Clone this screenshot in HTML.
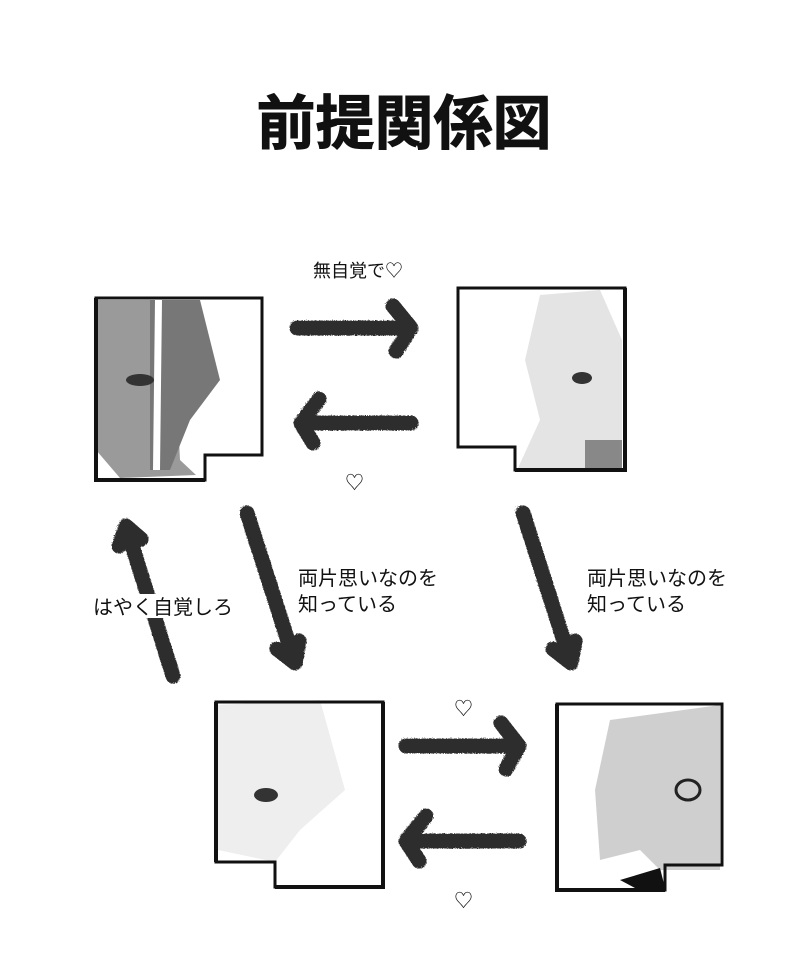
<!DOCTYPE html>
<html><head><meta charset="utf-8"><style>
html,body{margin:0;padding:0;background:#fff;}
svg{display:block;}
text{font-family:"Liberation Sans","Noto Sans CJK JP",sans-serif;fill:#111;}
</style></head><body>
<svg width="800" height="980" viewBox="0 0 800 980" xmlns="http://www.w3.org/2000/svg">
<defs>
<filter id="r"><feTurbulence baseFrequency="0.9" numOctaves="1" result="n"/><feDisplacementMap in="SourceGraphic" in2="n" scale="3"/></filter>
</defs>
<text x="404" y="144" font-size="59" font-weight="bold" text-anchor="middle" stroke="#111" stroke-width="1">前提関係図</text>

<!-- top-left box -->
<path d="M96,300 L172,300 L180,460 L196,475 L120,478 L96,450Z" fill="#9a9a9a"/>
<path d="M150,300 L200,300 L220,380 L190,420 L170,470 L150,470Z" fill="#777"/>
<path d="M155,300 L162,300 L160,470 L153,470Z" fill="#fff"/>
<path d="M96,298 L262,298 L262,455 L205,455 L205,480 L96,480Z" fill="none" stroke="#111" stroke-width="3"/>
<path d="M96,298 L96,480 L205,480" fill="none" stroke="#111" stroke-width="4"/>
<ellipse cx="140" cy="380" rx="14" ry="6" fill="#333"/>

<!-- top-right box -->
<path d="M540,295 L600,290 L622,340 L622,468 L518,468 L540,420 L525,360Z" fill="#e4e4e4"/>
<path d="M585,440 L622,440 L622,468 L585,468Z" fill="#888"/>
<path d="M458,288 L625,288 L625,470 L515,470 L515,447 L458,447Z" fill="none" stroke="#111" stroke-width="3"/>
<path d="M625,288 L625,470 L515,470" fill="none" stroke="#111" stroke-width="4"/>
<ellipse cx="582" cy="378" rx="10" ry="6" fill="#333"/>

<!-- bottom-left box -->
<path d="M218,705 L320,700 L345,790 L300,830 L275,862 L218,850Z" fill="#eee"/>
<path d="M216,702 L383,702 L383,887 L275,887 L275,862 L216,862Z" fill="none" stroke="#111" stroke-width="3"/>
<path d="M216,702 L216,862" stroke="#111" stroke-width="4"/>
<path d="M383,702 L383,887 L275,887" fill="none" stroke="#111" stroke-width="4"/>
<ellipse cx="266" cy="795" rx="12" ry="7" fill="#333"/>

<!-- bottom-right box -->
<path d="M610,720 L720,705 L720,870 L660,870 L640,850 L600,860 L595,790Z" fill="#cfcfcf"/>
<path d="M620,880 L660,868 L665,888 L635,888Z" fill="#111"/>
<path d="M557,704 L722,704 L722,865 L665,865 L665,890 L557,890Z" fill="none" stroke="#111" stroke-width="3"/>
<path d="M557,704 L557,890 L665,890" fill="none" stroke="#111" stroke-width="4"/>
<ellipse cx="688" cy="790" rx="12" ry="10" fill="none" stroke="#222" stroke-width="3"/>

<!-- arrows -->
<g stroke="#1a1a1a" stroke-width="15" fill="none" stroke-linecap="round" stroke-linejoin="round" filter="url(#r)" opacity="0.92">
<path d="M296,327 L410,327 M392,305 L410,327 L395,350"/>
<path d="M410,422 L300,422 M318,398 L300,422 L312,442"/>
<path d="M405,745 L518,745 M500,722 L518,745 L505,768"/>
<path d="M518,840 L405,840 M425,815 L405,840 L418,860"/>
<path d="M172,675 L125,525 M118,545 L125,525 L140,538"/>
<path d="M246,512 L294,662 M276,648 L294,662 L298,640"/>
<path d="M522,512 L570,662 M552,648 L570,662 L574,640"/>
</g>

<text x="313" y="277" font-size="18">無自覚で♡</text>
<text x="345" y="489" font-size="19">♡</text>
<text x="298" y="585" font-size="20">両片思いなのを</text>
<text x="298" y="611" font-size="20">知っている</text>
<text x="587" y="585" font-size="20">両片思いなのを</text>
<text x="587" y="611" font-size="20">知っている</text>
<rect x="130" y="594" width="45" height="24" fill="#fff"/>
<text x="93" y="614" font-size="20">はやく自覚しろ</text>
<text x="454" y="715" font-size="19">♡</text>
<text x="454" y="907" font-size="19">♡</text>
</svg>
</body></html>
